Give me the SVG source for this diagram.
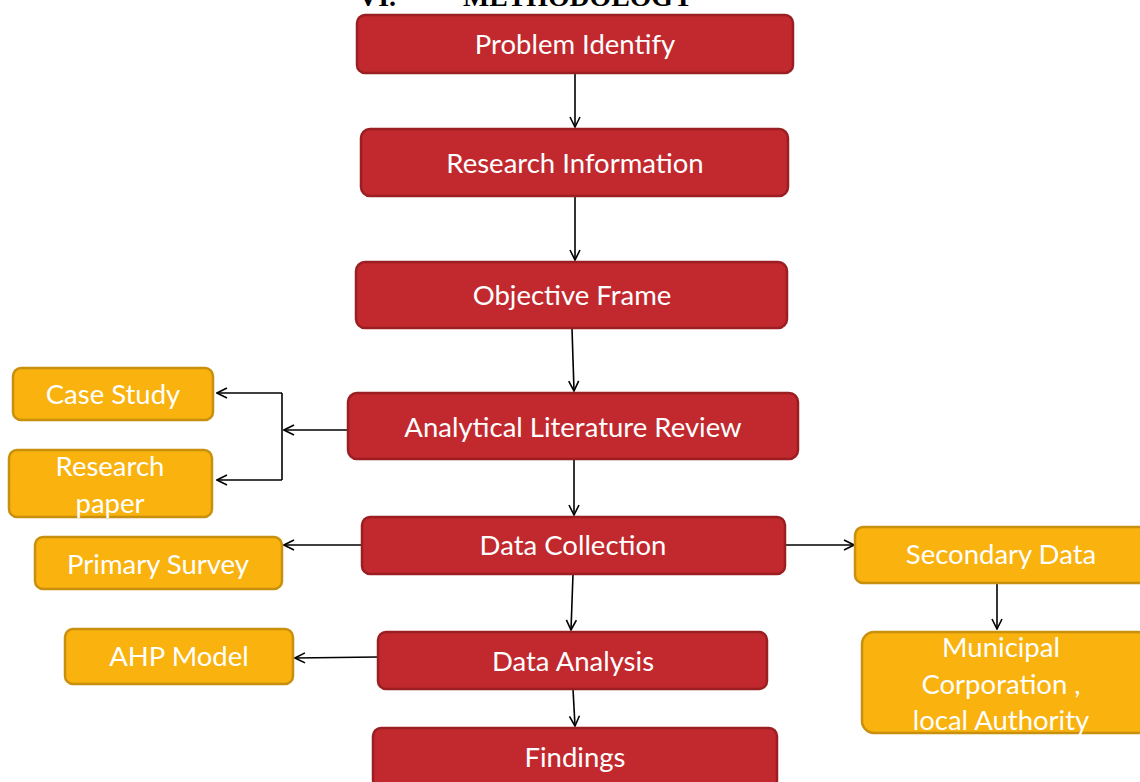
<svg xmlns="http://www.w3.org/2000/svg" width="1140" height="782" viewBox="0 0 1140 782">
<style>
.red{fill:#c1292e;stroke:#9a1e22;stroke-width:2.5}
.yel{fill:#f9b20e;stroke:#c8900c;stroke-width:2.5}
.t{font-family:Lato,"Open Sans",sans-serif;font-size:27.5px;fill:#ffffff;text-anchor:middle}
.c{fill:none;stroke:#000;stroke-width:1.6}
.h{font-family:"Liberation Serif",serif;font-weight:bold;font-size:28px;fill:#000}
</style>
<defs>
<marker id="a" viewBox="0 0 12 12" refX="11" refY="6" markerWidth="12" markerHeight="12" markerUnits="userSpaceOnUse" orient="auto">
<path d="M1,1 L11,6 L1,11" fill="none" stroke="#000" stroke-width="1.6"/>
</marker>
</defs>
<text class="h" x="358" y="6">VI.</text>
<text class="h" x="463" y="6" textLength="230" lengthAdjust="spacingAndGlyphs">METHODOLOGY</text>
<g id="connectors">
<path class="c" d="M575,73 V127" marker-end="url(#a)"/>
<path class="c" d="M575,196 V260" marker-end="url(#a)"/>
<path class="c" d="M572,328 L574,391" marker-end="url(#a)"/>
<path class="c" d="M348,430 H284" marker-end="url(#a)"/>
<path class="c" d="M282,393 V480"/>
<path class="c" d="M282,393 H217" marker-end="url(#a)"/>
<path class="c" d="M282,480 H217" marker-end="url(#a)"/>
<path class="c" d="M574,459 V515" marker-end="url(#a)"/>
<path class="c" d="M362,545 H284" marker-end="url(#a)"/>
<path class="c" d="M785,545 H854" marker-end="url(#a)"/>
<path class="c" d="M573,574 L571,630" marker-end="url(#a)"/>
<path class="c" d="M378,657 L295,658" marker-end="url(#a)"/>
<path class="c" d="M573,689 L575,726" marker-end="url(#a)"/>
<path class="c" d="M997,583 V629" marker-end="url(#a)"/>
</g>
<g id="problem"><rect class="red" x="357" y="15" width="436" height="58" rx="8"/><text class="t" x="575" y="54">Problem Identify</text></g>
<g id="research-info"><rect class="red" x="361" y="129" width="427" height="67" rx="9"/><text class="t" x="575" y="173">Research Information</text></g>
<g id="objective"><rect class="red" x="356" y="262" width="431" height="66" rx="9"/><text class="t" x="572" y="305">Objective Frame</text></g>
<g id="literature"><rect class="red" x="348" y="393" width="450" height="66" rx="9"/><text class="t" x="573" y="437">Analytical Literature Review</text></g>
<g id="collection"><rect class="red" x="362" y="517" width="423" height="57" rx="8"/><text class="t" x="573" y="555">Data Collection</text></g>
<g id="analysis"><rect class="red" x="378" y="632" width="389" height="57" rx="8"/><text class="t" x="573" y="671">Data Analysis</text></g>
<g id="findings"><rect class="red" x="373" y="728" width="404" height="60" rx="8"/><text class="t" x="575" y="767">Findings</text></g>
<g id="case-study"><rect class="yel" x="13" y="368" width="200" height="52" rx="8"/><text class="t" x="113" y="404">Case Study</text></g>
<g id="research-paper"><rect class="yel" x="9" y="450" width="203" height="67" rx="8"/><text class="t" x="110" y="476">Research</text><text class="t" x="110" y="513">paper</text></g>
<g id="primary"><rect class="yel" x="35" y="537" width="247" height="52" rx="8"/><text class="t" x="158" y="574">Primary Survey</text></g>
<g id="ahp"><rect class="yel" x="65" y="629" width="228" height="55" rx="8"/><text class="t" x="179" y="666">AHP Model</text></g>
<g id="secondary"><rect class="yel" x="855" y="527" width="295" height="56" rx="8"/><text class="t" x="1001" y="564">Secondary Data</text></g>
<g id="municipal"><rect class="yel" x="862" y="632" width="288" height="101" rx="12"/><text class="t" x="1001" y="657">Municipal</text><text class="t" x="1001" y="694">Corporation ,</text><text class="t" x="1001" y="730">local Authority</text></g>
</svg>
